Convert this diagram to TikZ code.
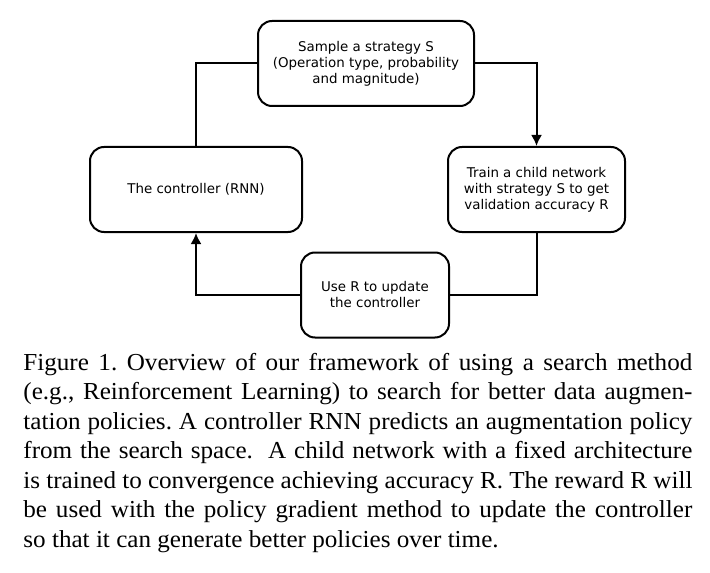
\documentclass[tikz,border=0pt]{standalone}
\usepackage{fontspec}
\setmainfont{Liberation Serif}
\newfontfamily\boxfont{DejaVu Sans}
\newfontfamily\capfont{Liberation Serif}[FakeStretch=1.03]
\usetikzlibrary{arrows.meta, positioning}

\begin{document}
\begin{tikzpicture}[x=0.5pt, y=-0.5pt,
    block/.style={rectangle, draw, rounded corners=7pt, line width=1pt, inner sep=0pt, align=center,
      minimum height=42.5pt, font=\boxfont\fontsize{6.7}{8}\selectfont},
    link/.style={line width=1pt},
    tip/.style={-{Latex[length=5.5pt, width=5.5pt]}}]
        \useasboundingbox (0,0) rectangle (710,572);
        % the four steps of the loop
        \node[block, minimum width=108pt] (sample) at (366,63.5) {Sample a strategy S\\(Operation type, probability\\and magnitude)};
        \node[block, minimum width=106pt] (ctrl) at (196,189.5) {The controller (RNN)};
        \node[block, minimum width=88.5pt] (train) at (536.5,189.5) {Train a child network\\with strategy S to get\\validation accuracy R};
        \node[block, minimum width=74pt] (update) at (375,295) {Use R to update\\the controller};

        \draw[link] (ctrl.north) |- (sample.west);
        \draw[link, tip] (sample.east) -| (train.north);
        \draw[link] (train.south) |- (update.east);
        \draw[link, tip] (update.west) -| (ctrl.south);

        % caption
        \node[anchor=base west, inner sep=0pt, text width=334.5pt, align=justify,
          font=\capfont\fontsize{12.2}{14.75}\selectfont] (caption) at (23,370)
          {\frenchspacing\hyphenpenalty=10000 Figure 1. Overview of our framework of using a search method\linebreak
          (e.g., Reinforcement Learning) to search for better data augmen-\linebreak
          tation policies. A controller RNN predicts an augmentation policy\linebreak
          from the search space.\hspace{0.3em} A child network with a fixed architecture\linebreak
          is trained to convergence achieving accuracy R. The reward R will\linebreak
          be used with the policy gradient method to update the controller\linebreak
          so that it can generate better policies over time.};
    \end{tikzpicture}
\end{document}
